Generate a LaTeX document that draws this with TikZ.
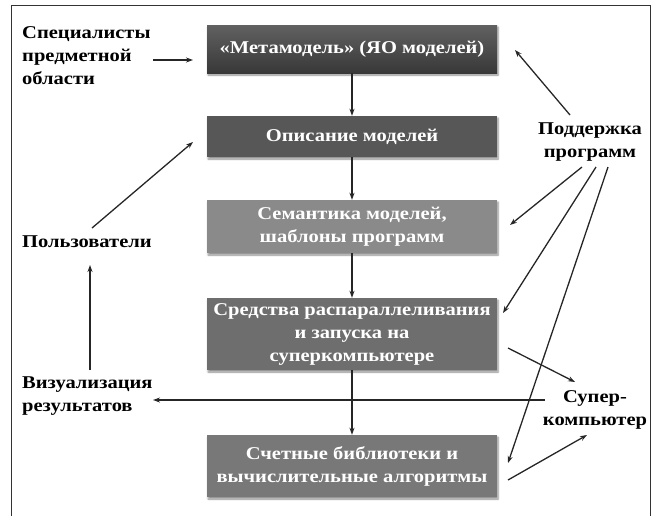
\documentclass[tikz,border=0pt]{standalone}
\usepackage{fontspec}
\setmainfont{Liberation Serif}[FakeStretch=1.14]
\usetikzlibrary{arrows.meta,shadows.blur}
\begin{document}
\begin{tikzpicture}[x=1pt,y=-1pt,
  box/.style={rectangle, minimum width=290pt, inner sep=2pt, align=center,
    text=white, font=\bfseries\fontsize{18}{23}\selectfont,
    blur shadow={shadow xshift=1pt, shadow yshift=-2pt, shadow blur steps=6, shadow opacity=45}},
  lbl/.style={inner sep=0pt, font=\bfseries\fontsize{18}{23}\selectfont},
  arr/.style={-{Stealth[length=7pt,width=5pt]}, line width=1.3pt, black!85}]
\useasboundingbox (0,0) rectangle (660,515);
\draw[line width=1pt, black!80] (11,520) -- (11,5) -- (650,5) -- (650,520);
% boxes
\node[box, minimum height=48pt, top color=black!62, bottom color=black!78] (b1) at (352,49) {«Метамодель» (ЯО моделей)};
\node[box, minimum height=41pt, fill=black!66] (b2) at (352,136.5) {Описание моделей};
\node[box, minimum height=53pt, fill=black!46] (b3) at (352,226.5) {Семантика моделей,\\ шаблоны программ};
\node[box, minimum height=72pt, fill=black!57] (b4) at (352,334) {Средства распараллеливания\\ и запуска на\\ суперкомпьютере};
\node[box, minimum height=62pt, fill=black!53] (b5) at (352,466) {Счетные библиотеки и\\ вычислительные алгоритмы};
% labels
\node[lbl, anchor=west, align=left] (spec) at (22,56) {Специалисты\\ предметной\\ области};
\node[lbl, anchor=west] (users) at (22,242) {Пользователи};
\node[lbl, anchor=west, align=left] (vis) at (22,396) {Визуализация\\ результатов};
\node[lbl, align=center] (supp) at (590,142) {Поддержка\\ программ};
\node[lbl, align=center] (super) at (595,410) {Супер-\\ компьютер};
% coordinates
\coordinate (specE) at (153,60);
\coordinate (b1W) at (193,60);
\coordinate (usersN) at (92,228);
\coordinate (b2W) at (193,142);
\coordinate (visN) at (90,370);
\coordinate (usersS) at (90,265);
\coordinate (superW) at (545,400);
\coordinate (visE) at (153,400);
\coordinate (s1) at (570,115);
\coordinate (b1E) at (515,50);
\coordinate (s2) at (582,167);
\coordinate (b3E) at (510,225);
\coordinate (s3) at (596,167);
\coordinate (b4E) at (503,313);
\coordinate (s4) at (608,167);
\coordinate (b5E) at (508,463);
\coordinate (b4o) at (508,348);
\coordinate (superA) at (575,382);
\coordinate (b5o) at (508,480);
\coordinate (superB) at (587,435);
% vertical chain
\draw[arr] (b1) -- (b2);
\draw[arr] (b2) -- (b3);
\draw[arr] (b3) -- (b4);
\draw[arr] (b4) -- (b5);
% left
\draw[arr] (specE) -- (b1W);
\draw[arr] (usersN) -- (b2W);
\draw[arr] (visN) -- (usersS);
\draw[arr] (superW) -- (visE);
% right
\draw[arr] (s1) -- (b1E);
\draw[arr] (s2) -- (b3E);
\draw[arr] (s3) -- (b4E);
\draw[arr] (s4) -- (b5E);
\draw[arr] (b4o) -- (superA);
\draw[arr] (b5o) -- (superB);
\end{tikzpicture}
\end{document}
